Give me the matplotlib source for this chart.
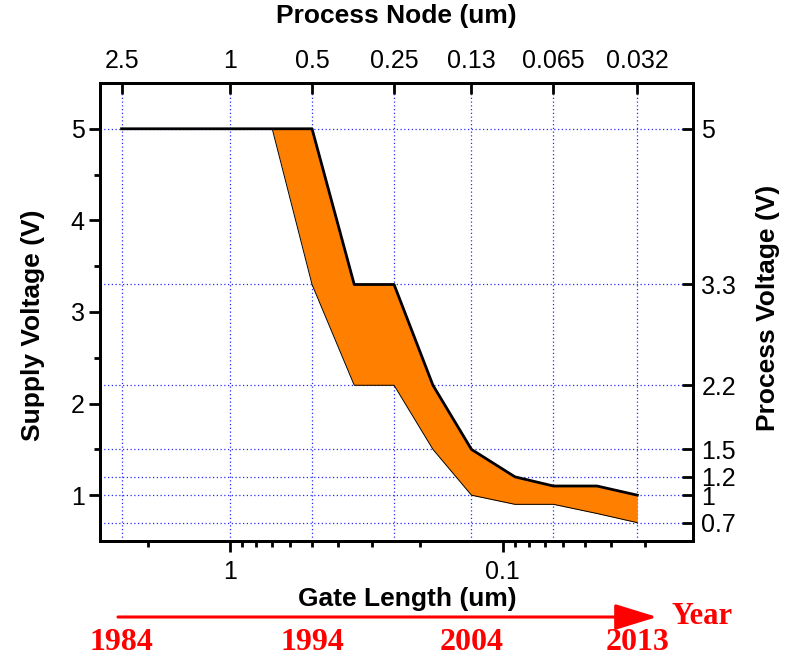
import numpy as np
import matplotlib.pyplot as plt
from matplotlib.patches import FancyArrowPatch
import matplotlib.transforms as mtransforms
from matplotlib.ticker import FixedLocator, NullFormatter

plt.rcParams['font.family'] = ['Liberation Sans', 'DejaVu Sans']

# gate length (um) and supply voltage range (V)
gate_hi = [2.5, 0.5, 0.35, 0.25, 0.18, 0.13, 0.09, 0.065, 0.045, 0.032]
volt_hi = [5.0, 5.0, 3.3, 3.3, 2.2, 1.5, 1.2, 1.1, 1.1, 1.0]
gate_lo = [0.7, 0.5, 0.35, 0.25, 0.18, 0.13, 0.09, 0.065, 0.045, 0.032]
volt_lo = [5.0, 3.3, 2.2, 2.2, 1.5, 1.0, 0.9, 0.9, 0.8, 0.7]
volt_hi_band = [5.0, 5.0, 3.3, 3.3, 2.2, 1.5, 1.2, 1.1, 1.1, 1.0]

node_ticks = [2.5, 1, 0.5, 0.25, 0.13, 0.065, 0.032]
node_labels = ['2.5', '1', '0.5', '0.25', '0.13', '0.065', '0.032']
pv_ticks = [5, 3.3, 2.2, 1.5, 1.2, 1, 0.7]
pv_labels = ['5', '3.3', '2.2', '1.5', '1.2', '1', '0.7']
years = ['1984', '1994', '2004', '2013']
year_nodes = [2.5, 0.5, 0.13, 0.032]

fig = plt.figure(figsize=(7.88, 6.57), dpi=100)
ax = fig.add_axes([0.1269, 0.1766, 0.7525, 0.6971])
ax.set_xscale('log')
ax.set_xlim(3, 0.02)
ax.set_ylim(0.5, 5.5)

grid_kw = dict(color='#2a2aff', lw=0.9, ls=(0, (1, 2)), zorder=0)
for v in node_ticks:
    ax.axvline(v, **grid_kw)
for v in pv_ticks:
    ax.axhline(v, **grid_kw)

ax.fill_between(gate_lo, volt_lo, volt_hi_band, color='#ff8000', lw=0, zorder=2)
ax.plot(gate_hi, volt_hi, color='black', lw=2, zorder=3)
ax.plot(gate_lo, volt_lo, color='black', lw=0.7, zorder=3)

# bottom / left axes
ax.xaxis.set_major_locator(FixedLocator([1, 0.1]))
ax.set_xticklabels(['1', '0.1'])
minors = [2, 0.9, 0.8, 0.7, 0.6, 0.5, 0.4, 0.3, 0.2,
          0.09, 0.08, 0.07, 0.06, 0.05, 0.04, 0.03]
ax.xaxis.set_minor_locator(FixedLocator(minors))
ax.xaxis.set_minor_formatter(NullFormatter())
ax.set_yticks([1, 2, 3, 4, 5])
ax.set_yticks(np.arange(1.5, 5.5, 1.0), minor=True)
ax.tick_params(axis='both', which='major', direction='out', length=8, width=2,
               labelsize=18, pad=3)
ax.tick_params(axis='both', which='minor', direction='out', length=4, width=2)
ax.tick_params(axis='x', which='major', pad=6)
for s in ax.spines.values():
    s.set_linewidth(2)

ax.set_xlabel('Gate Length (um)', fontsize=19, fontweight='bold')
ax.xaxis.set_label_coords(0.519, -0.10)
ax.set_ylabel('Supply Voltage (V)', fontsize=19, fontweight='bold')
ax.yaxis.set_label_coords(-0.093, 0.47)

# top axis: process node
axt = ax.twiny()
axt.set_xscale('log')
axt.set_xlim(ax.get_xlim())
axt.xaxis.set_major_locator(FixedLocator(node_ticks))
axt.set_xticklabels(node_labels)
axt.xaxis.set_minor_locator(FixedLocator([]))
axt.tick_params(axis='x', direction='in', length=8, width=2, labelsize=18, pad=7)
axt.set_xlabel('Process Node (um)', fontsize=19, fontweight='bold')
axt.xaxis.set_label_coords(0.5, 1.131)

# right axis: process voltage
axr = ax.twinx()
axr.set_ylim(ax.get_ylim())
axr.set_yticks(pv_ticks)
axr.set_yticklabels(pv_labels)
axr.tick_params(axis='y', direction='in', length=8, width=2, labelsize=18, pad=6)
axr.set_ylabel('Process Voltage (V)', fontsize=19, fontweight='bold')
axr.yaxis.set_label_coords(1.107, 0.51)
for a in (axt, axr):
    for s in a.spines.values():
        s.set_linewidth(2)

# year arrow below the axes
arrow = FancyArrowPatch((118 / 788, 1 - 617 / 657), (657 / 788, 1 - 617 / 657),
                        transform=fig.transFigure, arrowstyle='-|>,head_length=26,head_width=8',
                        mutation_scale=1, color='red', lw=2.2, shrinkA=0, shrinkB=0)
fig.add_artist(arrow)
serif = ['Liberation Serif', 'DejaVu Serif']
fig.text(672 / 788, 1 - 624 / 657, 'Year', color='red', fontsize=22,
         fontweight='bold', family=serif, ha='left', va='baseline')
trans = mtransforms.blended_transform_factory(ax.transData, fig.transFigure)
for yr, x in zip(years, year_nodes):
    fig.text(x, 1 - 650 / 657, yr, transform=trans, color='red', fontsize=23,
             fontweight='bold', family=serif, ha='center', va='baseline')

fig.savefig('out.png', dpi=100)
